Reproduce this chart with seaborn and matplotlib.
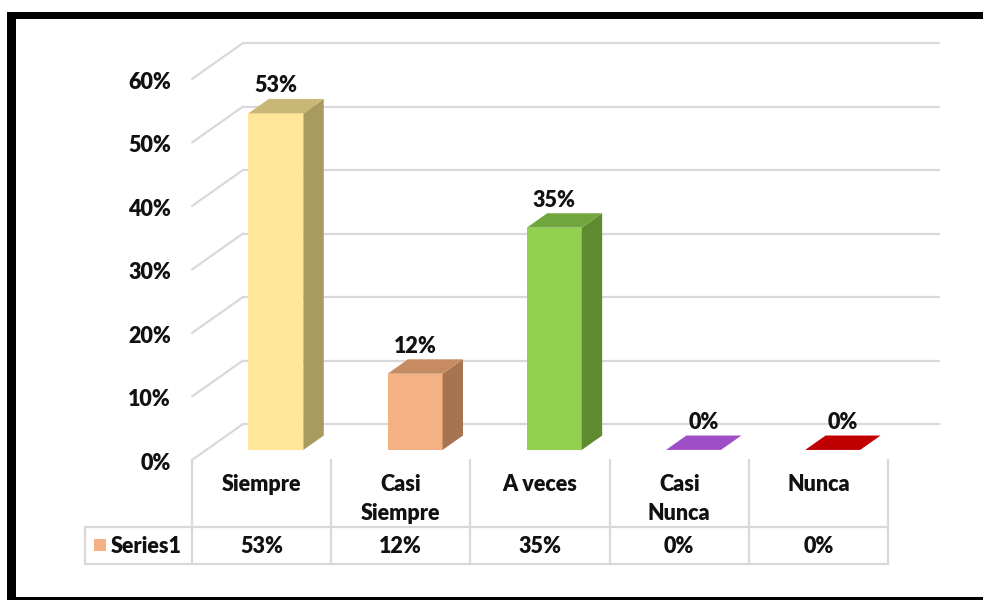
import numpy as np
import pandas as pd
import matplotlib
matplotlib.use("Agg")
import matplotlib.pyplot as plt
import seaborn as sns
from matplotlib.patches import Polygon, Rectangle

# data
categories = ["Siempre", "Casi Siempre", "A veces", "Casi Nunca", "Nunca"]
header_labels = ["Siempre", "Casi\nSiempre", "A veces", "Casi\nNunca", "Nunca"]
values = [53, 12, 35, 0, 0]
series_name = "Series1"
yticks = [0, 10, 20, 30, 40, 50, 60]

front_colors = ["#FFE699", "#F4B183", "#92D050", "#9E4FC6", "#C00000"]
side_colors = ["#A99A5F", "#A77350", "#5E8B30", "#6A3587", "#800000"]
top_colors = ["#C8B777", "#C68B63", "#70A63B", "#9E4FC6", "#C00000"]
key_color = "#F4B183"
grid_color = "#D9D9D9"
txt_color = "#111111"

df = pd.DataFrame({"cat": categories, "val": values})

sns.set_theme(style="white")
plt.rcParams["font.family"] = ["Lato", "DejaVu Sans"]

fs = 15.5
fw = "heavy"

fig = plt.figure(figsize=(9.83, 6.0), dpi=100)
ax = fig.add_axes([0, 0, 1, 1])

# pixel-ish scale: one category = 139.2 px, 1% = 6.35 px
ux, uy = 139.2, 6.35
DX, DY = 51 / ux, 36 / uy          # full floor depth
bz0, bz1 = 0.28, 0.68               # bar depth span (fraction of floor)
bw = 0.395

sns.barplot(data=df, x="cat", y="val", hue="cat", palette=front_colors,
            legend=False, width=bw, linewidth=0, saturation=1, ax=ax, zorder=3)

# back wall gridlines and left side diagonals
for t in yticks:
    ax.plot([-0.5 + DX, 4.5 + DX], [t + DY, t + DY], color=grid_color, lw=1.6, zorder=1)
    ax.plot([-0.5, -0.5 + DX], [t, t + DY], color=grid_color, lw=1.6, zorder=1)
    ax.text(-0.65, t - 0.5, f"{t}%", ha="right", va="center", fontsize=fs,
            fontweight=fw, color=txt_color)

# 3D bars: shift front faces, add side and top faces
fx, fy = bz0 * DX, bz0 * DY
bx, by = (bz1 - bz0) * DX, (bz1 - bz0) * DY
for i, p in enumerate(ax.patches):
    v = values[i]
    p.set_x(p.get_x() + fx)
    p.set_y(fy)
    x0 = p.get_x()
    x1 = x0 + bw
    y0, y1 = fy, fy + v
    if v > 0:
        ax.add_patch(Polygon([(x1, y0), (x1 + bx, y0 + by), (x1 + bx, y1 + by), (x1, y1)],
                             closed=True, facecolor=side_colors[i], lw=0, zorder=3))
    ax.add_patch(Polygon([(x0, y1), (x1, y1), (x1 + bx, y1 + by), (x0 + bx, y1 + by)],
                         closed=True, facecolor=top_colors[i], lw=0, zorder=3))
    lx = x0 + bw / 2 + (bx / 2 if v == 0 else 0)
    ax.text(lx, y1 + by + 0.4, f"{v}%", ha="center", va="bottom", fontsize=fs,
            fontweight=fw, color=txt_color, zorder=4)

# data table
row_top = (460 - 527) / uy
row_bot = (460 - 564) / uy
tab_left = -0.5 + (85 - 192) / ux
for k in range(len(categories) + 1):
    ax.plot([k - 0.5, k - 0.5], [0, row_bot], color=grid_color, lw=1.6, zorder=1)
ax.plot([tab_left, len(categories) - 0.5], [row_top, row_top], color=grid_color, lw=1.6)
ax.plot([tab_left, len(categories) - 0.5], [row_bot, row_bot], color=grid_color, lw=1.6)
ax.plot([tab_left, tab_left], [row_top, row_bot], color=grid_color, lw=1.6)

for k, lab in enumerate(header_labels):
    ax.text(k, (460 - 474) / uy, lab, ha="center", va="top", fontsize=fs,
            fontweight=fw, linespacing=1.5, color=txt_color)
    ax.text(k, (row_top + row_bot) / 2 - 0.2, f"{values[k]}%", ha="center", va="center",
            fontsize=fs, fontweight=fw, color=txt_color)

ax.add_patch(Rectangle((-0.5 + (94 - 192) / ux, (460 - 551) / uy), 12 / ux, 12 / uy,
                       facecolor=key_color, lw=0))
ax.text(-0.5 + (111 - 192) / ux, (row_top + row_bot) / 2 - 0.2, series_name, ha="left",
        va="center", fontsize=fs, fontweight=fw, color=txt_color)

ax.set_xlim(-0.5 - 192 / ux, -0.5 + (983 - 192) / ux)
ax.set_ylim((460 - 600) / uy, 460 / uy)
ax.axis("off")

# black frame of the screenshot
W, H = 983, 600
fig.patches.append(Rectangle((7 / W, 0), 9 / W, (600 - 12) / H, transform=fig.transFigure,
                             facecolor="black", lw=0))
fig.patches.append(Rectangle((7 / W, (600 - 19) / H), 1, 7 / H, transform=fig.transFigure,
                             facecolor="black", lw=0))
fig.patches.append(Rectangle((7 / W, 0), 1, 3 / H, transform=fig.transFigure,
                             facecolor="black", lw=0))

fig.savefig("out.png", dpi=100)
